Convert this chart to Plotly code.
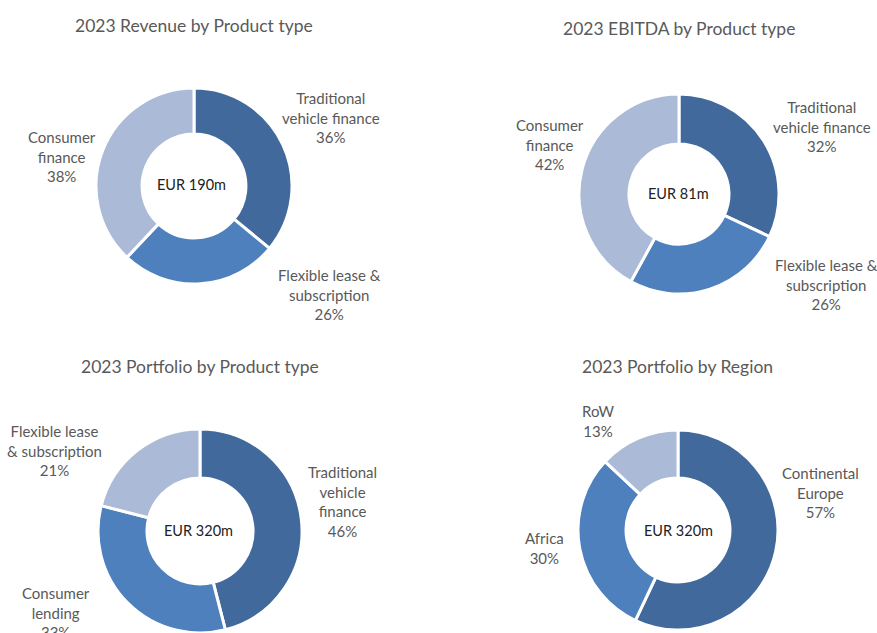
import plotly.graph_objects as go

W, H = 877, 633

# ---- data ----
rev_labels = ["Traditional vehicle finance", "Flexible lease & subscription", "Consumer finance"]
rev_values = [36, 26, 38]
rev_total = "EUR 190m"

ebitda_labels = ["Traditional vehicle finance", "Flexible lease & subscription", "Consumer finance"]
ebitda_values = [32, 26, 42]
ebitda_total = "EUR 81m"

port_labels = ["Traditional vehicle finance", "Consumer lending", "Flexible lease & subscription"]
port_values = [46, 33, 21]
port_total = "EUR 320m"

region_labels = ["Continental Europe", "Africa", "RoW"]
region_values = [57, 30, 13]
region_total = "EUR 320m"

titles = ["2023 Revenue by Product type", "2023 EBITDA by Product type",
          "2023 Portfolio by Product type", "2023 Portfolio by Region"]

# wrapped label text as shown in the chart
rev_wrap = ["Traditional<br>vehicle finance", "Flexible lease &<br>subscription", "Consumer<br>finance"]
ebitda_wrap = ["Traditional<br>vehicle finance", "Flexible lease &<br>subscription", "Consumer<br>finance"]
port_wrap = ["Traditional<br>vehicle<br>finance", "Consumer<br>lending", "Flexible lease<br>& subscription"]
region_wrap = ["Continental<br>Europe", "Africa", "RoW"]

COLORS = ["#41699C", "#4E80BD", "#AABAD7"]
FONT = "Lato, Carlito, Calibri, sans-serif"
GRAY = "#595959"

def px(x):
    return x / W

def py(y):
    return 1 - y / H

# layout of each donut: center x, center y, radius, hole, title pos, label positions
charts = [
    dict(labels=rev_labels, values=rev_values, wrap=rev_wrap, total=rev_total,
         cx=194, cy=186, r=98, hole=0.53, title=(194, 25), center=(191, 184),
         lpos=[(331, 118), (329, 294), (62, 156)]),
    dict(labels=ebitda_labels, values=ebitda_values, wrap=ebitda_wrap, total=ebitda_total,
         cx=679, cy=194, r=100, hole=0.5, title=(679, 29), center=(678, 193),
         lpos=[(822, 126), (826, 284), (550, 145)]),
    dict(labels=port_labels, values=port_values, wrap=port_wrap, total=port_total,
         cx=200, cy=531, r=102, hole=0.52, title=(200, 366), center=(198, 530),
         lpos=[(342, 501), (56, 612), (54, 451)]),
    dict(labels=region_labels, values=region_values, wrap=region_wrap, total=region_total,
         cx=678, cy=530, r=100, hole=0.52, title=(677, 366), center=(678, 530),
         lpos=[(820, 492), (544, 548), (598, 421)]),
]

fig = go.Figure()
annotations = []
for i, c in enumerate(charts):
    fig.add_trace(go.Pie(
        labels=c["labels"], values=c["values"], hole=c["hole"], sort=False,
        direction="clockwise", rotation=0, textinfo="none",
        marker=dict(colors=COLORS, line=dict(color="white", width=3)),
        domain=dict(x=[px(c["cx"] - c["r"]), px(c["cx"] + c["r"])],
                    y=[max(0, py(c["cy"] + c["r"])), py(c["cy"] - c["r"])]),
        showlegend=False, hoverinfo="label+percent",
    ))
    annotations.append(dict(text=titles[i], x=px(c["title"][0]), y=py(c["title"][1]),
                            xref="paper", yref="paper", showarrow=False,
                            xanchor="center", yanchor="middle",
                            font=dict(family=FONT, size=17.5, color=GRAY)))
    annotations.append(dict(text=c["total"], x=px(c["center"][0]), y=py(c["center"][1]),
                            xref="paper", yref="paper", showarrow=False,
                            xanchor="center", yanchor="middle",
                            font=dict(family=FONT, size=14.5, color="#222222")))
    total = sum(c["values"])
    for lab, v, (lx, ly) in zip(c["wrap"], c["values"], c["lpos"]):
        annotations.append(dict(text=f"{lab}<br>{round(100 * v / total)}%",
                                x=px(lx), y=py(ly), xref="paper", yref="paper",
                                showarrow=False, xanchor="center", yanchor="middle",
                                align="center",
                                font=dict(family=FONT, size=15, color=GRAY)))

fig.update_layout(width=W, height=H, margin=dict(l=0, r=0, t=0, b=0),
                  paper_bgcolor="white", plot_bgcolor="white",
                  annotations=annotations)

fig.write_html("out.html", config={"displayModeBar": False},
               post_script="document.body.style.margin='0';document.body.style.overflow='hidden';")
